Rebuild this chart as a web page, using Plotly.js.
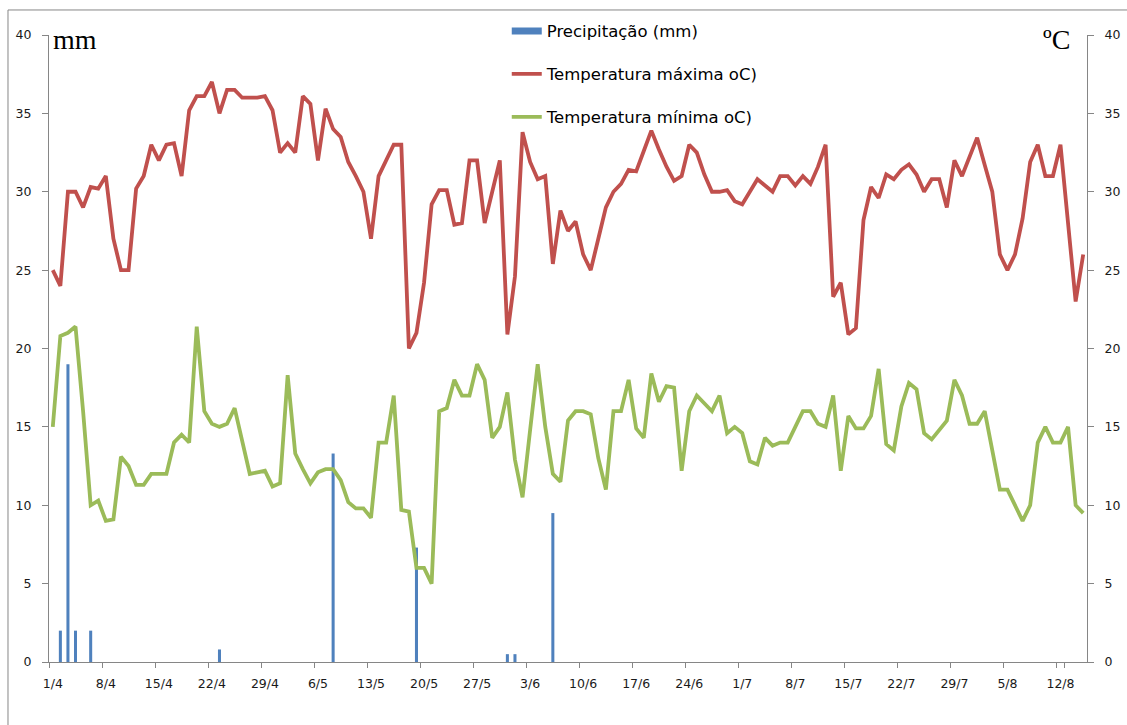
<!DOCTYPE html>
<html>
<head>
<meta charset="utf-8">
<script src="https://cdn.plot.ly/plotly-3.0.1.min.js"></script>
<style>html,body{margin:0;padding:0;background:#fff;}#chart{width:1127px;height:725px;}</style>
</head>
<body>
<div id="chart"></div>
<script>
// Categories: daily dates (day/month)
var dates = [
 '1/4','2/4','3/4','4/4','5/4','6/4','7/4','8/4','9/4','10/4','11/4','12/4','13/4','14/4','15/4','16/4','17/4','18/4','19/4','20/4','21/4','22/4','23/4','24/4','25/4','26/4','27/4','28/4','29/4','30/4',
 '1/5','2/5','3/5','4/5','5/5','6/5','7/5','8/5','9/5','10/5','11/5','12/5','13/5','14/5','15/5','16/5','17/5','18/5','19/5','20/5','21/5','22/5','23/5','24/5','25/5','26/5','27/5','28/5','29/5','30/5','31/5',
 '1/6','2/6','3/6','4/6','5/6','6/6','7/6','8/6','9/6','10/6','11/6','12/6','13/6','14/6','15/6','16/6','17/6','18/6','19/6','20/6','21/6','22/6','23/6','24/6','25/6','26/6','27/6','28/6','29/6','30/6',
 '1/7','2/7','3/7','4/7','5/7','6/7','7/7','8/7','9/7','10/7','11/7','12/7','13/7','14/7','15/7','16/7','17/7','18/7','19/7','20/7','21/7','22/7','23/7','24/7','25/7','26/7','27/7','28/7','29/7','30/7','31/7',
 '1/8','2/8','3/8','4/8','5/8','6/8','7/8','8/8','9/8','10/8','11/8','12/8','13/8','14/8','15/8'
];

// Precipitation (mm) — only rainy days
var precipDates = ['2/4','3/4','4/4','6/4','23/4','8/5','19/5','31/5','1/6','6/6'];
var precipValues = [2, 19, 2, 2, 0.8, 13.3, 7.3, 0.5, 0.5, 9.5];

// Maximum temperature (oC)
var tmax = [
 25,24,30,30,29,30.3,30.2,31,27,25,25,30.2,31,33,32,33,33.1,31,35.2,36.1,36.1,37,35,36.5,36.5,36,36,36,36.1,35.2,
 32.5,33.1,32.5,36.1,35.6,32,35.3,34,33.5,31.9,31,30,27,31,32,33,33,20,21,24.2,29.2,30.1,30.1,27.9,28,32,32,28,30,32,20.9,
 24.6,33.8,31.9,30.8,31,25.4,28.8,27.5,28.1,26,25,27,29,30,30.5,31.4,31.3,32.6,33.9,32.7,31.6,30.7,31,33,32.5,31.1,30,30,30.1,
 29.4,29.2,30,30.8,30.4,30,31,31,30.4,31,30.5,31.6,33,23.3,24.2,20.9,21.3,28.2,30.3,29.6,31.1,30.8,31.4,31.75,31.1,30,30.8,30.8,29,32,31,
 32.2,33.45,31.7,30,26,25,26,28.3,31.9,33,31,31,33,28,23,26
];

// Minimum temperature (oC)
var tmin = [
 15,20.8,21,21.4,16,10,10.3,9,9.1,13.1,12.5,11.3,11.3,12,12,12,14,14.5,14,21.4,16,15.2,15,15.2,16.2,14.1,12,12.1,12.2,11.2,
 11.4,18.3,13.3,12.3,11.4,12.1,12.3,12.3,11.6,10.2,9.8,9.8,9.2,14,14,17,9.7,9.6,6,6,5,16,16.2,18,17,17,19,18,14.3,15,17.2,
 12.9,10.5,14.8,19,15,12,11.5,15.4,16,16,15.8,13,11,16,16,18,14.9,14.3,18.4,16.6,17.6,17.5,12.2,16,17,16.5,16,17,14.6,
 15,14.6,12.8,12.6,14.3,13.8,14,14,15,16,16,15.2,15,17,12.2,15.7,14.9,14.9,15.7,18.7,13.9,13.5,16.3,17.8,17.4,14.6,14.2,14.8,15.4,18,17,
 15.2,15.2,16,13.5,11,11,10,9,10,14,15,14,14,15,10,9.5
];

var tickLabels = ['1/4','8/4','15/4','22/4','29/4','6/5','13/5','20/5','27/5','3/6','10/6','17/6','24/6','1/7','8/7','15/7','22/7','29/7','5/8','12/8'];

var axisColor = '#868686';
var barColor = '#4F81BD';
var tickFont = {family: 'DejaVu Sans, Verdana, sans-serif', size: 12.5, color: '#1a1a1a'};

var traces = [
  {
    type: 'bar', name: 'Precipitação (mm)', x: precipDates, y: precipValues,
    xaxis: 'x', yaxis: 'y', width: 0.4,
    marker: {color: barColor, line: {width: 0}},
    legendgroup: 'g1', showlegend: false, hoverinfo: 'x+y'
  },
  {
    // legend-only entry giving the wide flat swatch used for the bars
    type: 'scatter', mode: 'lines', name: 'Precipitação (mm)', x: [null], y: [null],
    xaxis: 'x', yaxis: 'y', line: {color: barColor, width: 7},
    legendgroup: 'g1', showlegend: true, hoverinfo: 'skip'
  },
  {
    type: 'scatter', mode: 'lines', name: 'Temperatura máxima oC)', x: dates, y: tmax,
    xaxis: 'x', yaxis: 'y2', line: {color: '#C0504D', width: 3.8},
    legendgroup: 'g2'
  },
  {
    type: 'scatter', mode: 'lines', name: 'Temperatura mínima oC)', x: dates, y: tmin,
    xaxis: 'x', yaxis: 'y2', line: {color: '#9BBB59', width: 3.8},
    legendgroup: 'g3'
  }
];

var layout = {
  width: 1127, height: 725, autosize: false,
  margin: {l: 49, r: 40, t: 35, b: 63, pad: 0},
  paper_bgcolor: '#ffffff', plot_bgcolor: '#ffffff',
  showlegend: true,
  legend: {
    x: 0.441, xanchor: 'left', y: 1.034, yanchor: 'top',
    font: {family: 'DejaVu Sans, Verdana, sans-serif', size: 16.5, color: '#000'},
    traceorder: 'grouped', tracegroupgap: 18.5, bgcolor: 'rgba(0,0,0,0)'
  },
  xaxis: {
    type: 'category', categoryorder: 'array', categoryarray: dates,
    range: [-0.5, dates.length - 0.5],
    tickmode: 'array', tickvals: tickLabels, ticktext: tickLabels, tickangle: 0,
    tickson: 'boundaries', ticks: 'outside', ticklen: 5, tickcolor: axisColor, tickwidth: 1,
    showline: true, linecolor: axisColor, linewidth: 1, showgrid: false, zeroline: false,
    tickfont: tickFont, ticklabelstandoff: 10
  },
  yaxis: {
    range: [0, 40], tickmode: 'linear', tick0: 0, dtick: 5,
    ticks: 'outside', ticklen: 6, tickcolor: axisColor,
    showline: true, linecolor: axisColor, linewidth: 1, showgrid: false, zeroline: false,
    tickfont: tickFont, ticklabelstandoff: 8
  },
  yaxis2: {
    range: [0, 40], tickmode: 'linear', tick0: 0, dtick: 5, overlaying: 'y', side: 'right',
    ticks: 'outside', ticklen: 6, tickcolor: axisColor,
    showline: true, linecolor: axisColor, linewidth: 1, showgrid: false, zeroline: false,
    tickfont: tickFont, ticklabelstandoff: 8
  },
  annotations: [
    {text: 'mm', xref: 'paper', yref: 'paper', x: 0.002, y: 0.9936, xanchor: 'left', yanchor: 'middle',
     showarrow: false, font: {family: 'Liberation Serif, Times New Roman, serif', size: 28, color: '#000'}},
    {text: 'ºC', xref: 'paper', yref: 'paper', x: 0.9855, y: 0.9936, xanchor: 'right', yanchor: 'middle',
     showarrow: false, font: {family: 'Liberation Serif, Times New Roman, serif', size: 28, color: '#000'}}
  ],
  shapes: [
    {type: 'rect', xref: 'paper', yref: 'paper', x0: -0.0395, x1: 1.06, y0: -0.15, y1: 1.0399,
     line: {color: axisColor, width: 1}, fillcolor: 'rgba(0,0,0,0)', layer: 'below'}
  ]
};

Plotly.newPlot('chart', traces, layout, {displayModeBar: false, staticPlot: true});
</script>
</body>
</html>
